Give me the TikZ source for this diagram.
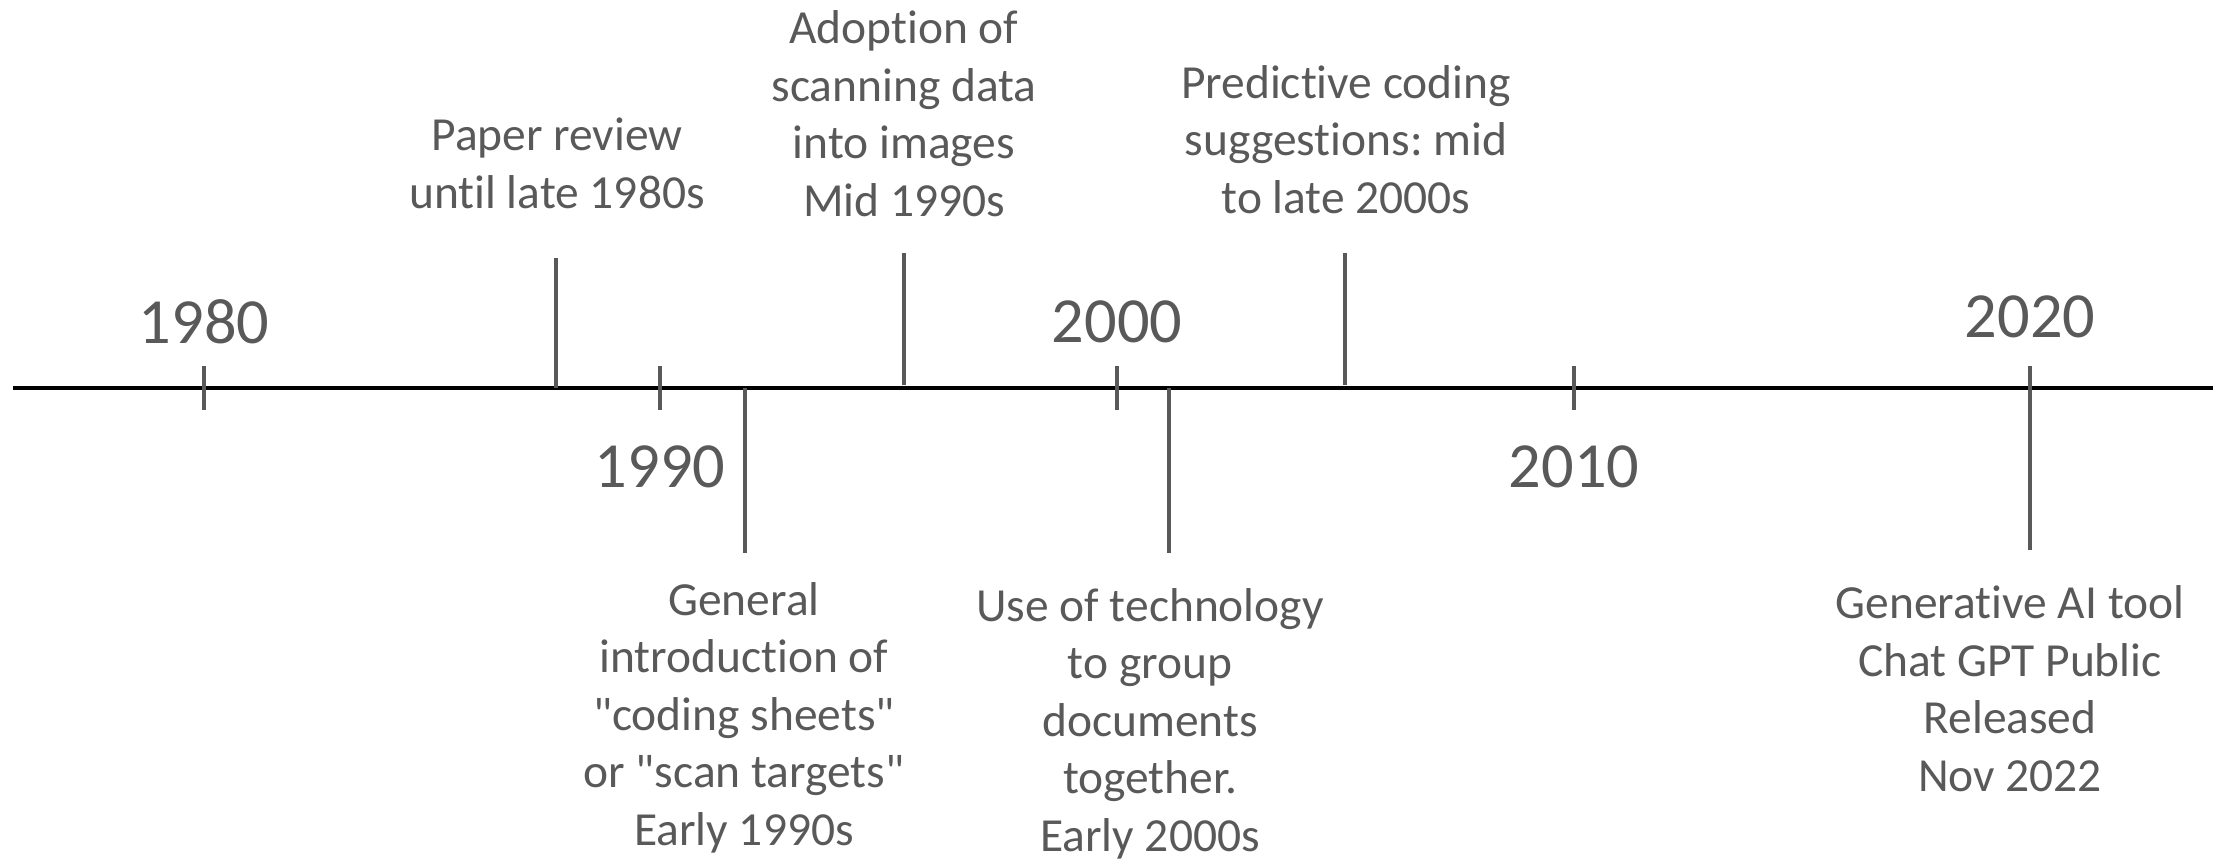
\documentclass[tikz,border=0pt]{standalone}
\usepackage{fontspec}
\setmainfont{Carlito}[Ligatures={TeXOff,NoCommon}]
\usepackage{tikz}
\definecolor{inkgray}{HTML}{595959}
\frenchspacing
\tikzset{event/.style={
    % The text:
    font=\fontsize{13.5}{16.35}\selectfont,
    text=inkgray,
    align=center,
    % No padding, placed on the last baseline:
    inner sep=0pt,
    anchor=base
    },
    year/.style={
    font=\fontsize{18.3}{22}\selectfont,
    text=inkgray,
    inner sep=0pt,
    anchor=base
    },
    axisline/.style={
    line width=1.35pt,
    draw=black
    },
    tickmark/.style={
    line width=1.1pt,
    draw=inkgray
    },
    stem/.style={
    line width=1.1pt,
    draw=inkgray
    },
}

\begin{document}
\begin{tikzpicture}[x=0.01cm,y=-0.01cm]
    \useasboundingbox (0,0) rectangle (2221,860);
    % The axis:
    \coordinate (axisL) at (13,388);
    \coordinate (axisR) at (2213,388);
    \draw[axisline] (axisL) -- (axisR);
    % Decade ticks and years:
    \foreach \yr/\x/\ly in {1980/204/343,1990/660/487,2000/1117/342,2010/1574/487,2020/2030/337}{
        \draw[tickmark] (\x,366) -- (\x,410);
        \node (y\yr) [year] at (\x,\ly) {\yr};
    }

    % Events above the axis
    \coordinate (paperFoot) at (556,388);
    \coordinate (paperTop) at (556,258);
    \coordinate (adoptFoot) at (904,385);
    \coordinate (adoptTop) at (904,253);
    \coordinate (predictFoot) at (1345,385);
    \coordinate (predictTop) at (1345,253);
    \draw[stem] (paperFoot) -- (paperTop);
    \draw[stem] (adoptFoot) -- (adoptTop);
    \draw[stem] (predictFoot) -- (predictTop);
    \node (paper)    [event] at (557,208)  {Paper review\\until late 1980s};
    \node (adopt)    [event] at (904,216)  {Adoption of\\scanning data\\into images\\Mid 1990s};
    \node (predict)  [event] at (1346,213) {Predictive coding\\suggestions: mid\\to late 2000s};

    % Events below the axis
    \coordinate (sheetsFoot) at (745,388);
    \coordinate (sheetsEnd) at (745,553);
    \coordinate (groupFoot) at (1169,388);
    \coordinate (groupEnd) at (1169,553);
    \coordinate (chatFoot) at (2030,388);
    \coordinate (chatEnd) at (2030,550);
    \draw[stem] (sheetsFoot) -- (sheetsEnd);
    \draw[stem] (groupFoot) -- (groupEnd);
    \draw[stem] (chatFoot) -- (chatEnd);
    \node (sheets)   [event] at (744,845)  {General\\introduction of\\"coding sheets"\\or "scan targets"\\Early 1990s};
    \node (group)    [event] at (1150,851) {Use of technology\\to group\\documents\\together.\\Early 2000s};
    \node (chat)     [event] at (2010,791) {Generative AI tool\\Chat GPT Public\\Released\\Nov 2022};
\end{tikzpicture}
\end{document}
